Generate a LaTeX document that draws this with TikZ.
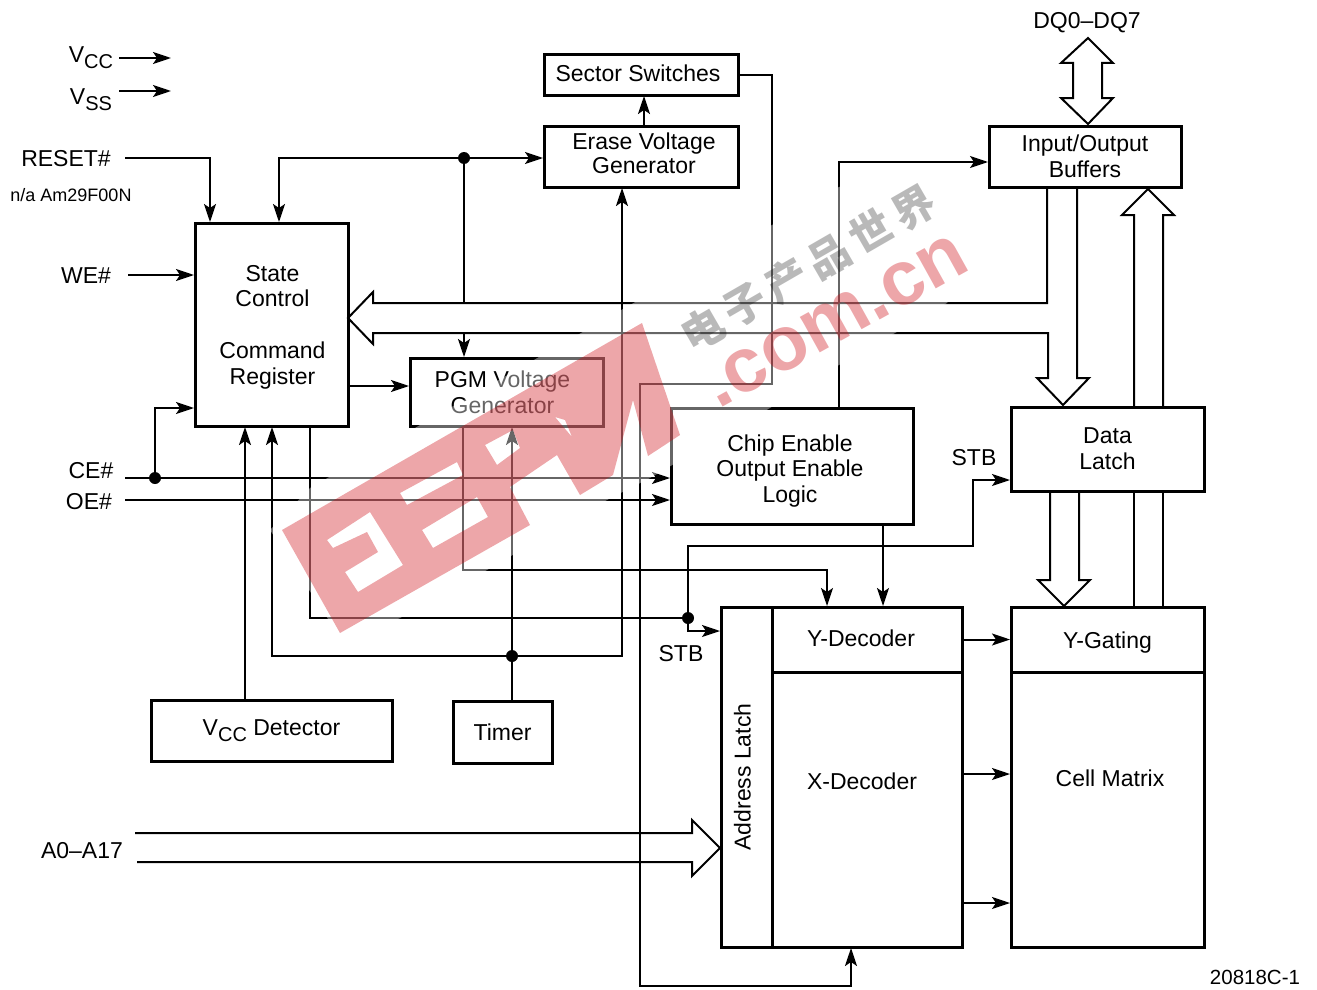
\documentclass[tikz,border=0pt]{standalone}
\usepackage{fontspec}
\setmainfont{Liberation Sans}
\newfontfamily\cjk[LetterSpace=16]{Noto Sans CJK SC}
\usetikzlibrary{arrows.meta,positioning}
\newcommand{\lowtext}[1]{\raisebox{-6pt}{\fontsize{20}{20}\selectfont #1}}
\definecolor{markred}{RGB}{203,0,11}
\tikzset{
    %Define standard arrow tip
    >={Stealth[length=18pt,width=12pt,inset=4pt]},
    %Define style for boxes
    blockbox/.style={
           rectangle,
           draw=black,
           line width=3pt,
           inner sep=0pt,
           outer sep=0pt,
           align=center,
           font=\fontsize{23}{25.8}\selectfont},
    boxlabel/.style={
           inner sep=0pt,
           align=center,
           font=\fontsize{23}{25.8}\selectfont},
    siglabel/.style={
           inner sep=0pt,
           font=\fontsize{23}{26}\selectfont},
    junction/.style={
           circle,
           fill=black,
           inner sep=0pt,
           minimum size=12pt},
    % Define arrow style
    sig/.style={
           ->,
           line width=2pt,
           shorten >=1pt},
    wire/.style={
           line width=2pt},
    bus/.style={
           line width=2pt,
           line join=miter}
}

\begin{document}
\begin{tikzpicture}[x=1pt,y=-1pt]
\useasboundingbox (0,0) rectangle (1317,990);
% blocks
\node[blockbox, minimum width=194pt, minimum height=61pt, label={[boxlabel, xshift=3pt, yshift=3pt, font=\fontsize{23}{24.5}\selectfont]center:Erase Voltage\\Generator}] (erase) at (641,156.5) {};
\node[blockbox, minimum width=194pt, minimum height=40pt, above=31pt of erase, label={[boxlabel, xshift=-3pt, yshift=2pt]center:Sector Switches}] (sector) {};
\node[blockbox, minimum width=192pt, minimum height=61pt] (iobuffers) at (1085,156.5) {Input/Output\\Buffers};
\node[blockbox, minimum width=153pt, minimum height=203pt, label={[boxlabel, xshift=1pt, yshift=-2.5pt]center:State\\Control\\[25.8pt]Command\\Register}] (state) at (271.5,324.5) {};
\node[blockbox, minimum width=193pt, minimum height=68pt, label={[boxlabel, xshift=-4pt]center:PGM Voltage\\Generator}] (pgm) at (506.5,392) {};
\node[blockbox, minimum width=242pt, minimum height=116pt, label={[boxlabel, xshift=-2pt, yshift=-5pt]center:Chip Enable\\Output Enable\\Logic}] (chip) at (792,466) {};
\node[blockbox, minimum width=193pt, minimum height=84pt] (datalatch) at (1107.5,449) {Data\\Latch};
\node[blockbox, minimum width=241pt, minimum height=61pt] (vccdet) at (271.5,730.5) {V\lowtext{CC} Detector};
\node[blockbox, minimum width=99pt, minimum height=62pt] (timer) at (502.5,732) {Timer};
\node[blockbox, minimum width=190pt, minimum height=65pt, label={[boxlabel, xshift=-6pt, yshift=1pt]center:Y-Decoder}] (ydec) at (867,639.5) {};
\node[blockbox, minimum width=190pt, minimum height=275pt, below=0pt of ydec, label={[boxlabel, xshift=-5pt, yshift=28pt]center:X-Decoder}] (xdec) {};
\node[blockbox, minimum width=51pt, minimum height=340pt, label={[boxlabel, xshift=-4pt]center:\rotatebox{90}{Address Latch}}] (addr) at (746.5,777) {};
\node[blockbox, minimum width=193pt, minimum height=65pt, label={[boxlabel, yshift=-3pt]center:Y-Gating}] (ygate) at (1107.5,639.5) {};
\node[blockbox, minimum width=193pt, minimum height=275pt, below=0pt of ygate, label={[boxlabel, xshift=2.5pt, yshift=31pt]center:Cell Matrix}] (cell) {};
% labels
\node[siglabel] (vcc) at (91,58) {V\lowtext{CC}};
\node[siglabel] (vss) at (91,100) {V\lowtext{SS}};
\node[siglabel] (reset) at (66,158.5) {RESET\#};
\node[siglabel, font=\fontsize{18}{18}\selectfont] (na) at (71,195) {n/a Am29F00N};
\node[siglabel] (we) at (86,276) {WE\#};
\node[siglabel] (ce) at (91,471) {CE\#};
\node[siglabel] (oe) at (89,502) {OE\#};
\node[siglabel] (stbdata) at (974,458) {STB};
\node[siglabel] (stbaddr) at (681,654) {STB};
\node[siglabel] (addrbus) at (82,851) {A0--A17};
\node[siglabel] (dq) at (1087,23) {DQ0--DQ7};
\node[siglabel, font=\fontsize{20.5}{20.5}\selectfont] (partno) at (1255,977) {20818C-1};
% free ends and dots
\coordinate (vccin) at (119,58);
\coordinate (vccend) at (172,58);
\coordinate (vssin) at (119,91);
\coordinate (vssend) at (172,91);
\coordinate (resetin) at (125,158);
\coordinate (wein) at (128,275);
\coordinate (cein) at (125,478);
\coordinate (oein) at (125,500);
\coordinate (bustop) at (464,303);
\coordinate (buslow) at (464,333);
\node[junction] (dotreset) at (464,158) {};
\node[junction] (dotce) at (155,478) {};
\node[junction] (dotstb) at (688,618) {};
\node[junction] (dottimer) at (512,656) {};
% control lines
\draw[sig] (vccin) -- (vccend);
\draw[sig] (vssin) -- (vssend);
\draw[sig] (resetin) -| ([xshift=-61.5pt]state.north);
\draw[sig] (dotreset) -| ([xshift=7.5pt]state.north);
\draw[sig] (dotreset) -- ([yshift=-1.5pt]erase.west);
\draw[wire] (dotreset) -- (bustop);
\draw[sig] (buslow) -- (buslow |- pgm.north);
\draw[sig] ([xshift=3pt]erase.north) -- ([xshift=3pt]sector.south);
\draw[sig] (wein) -- ([yshift=49.5pt]state.west);
\draw[sig] ([yshift=-61.5pt]state.east) -- ([yshift=6pt]pgm.west);
\draw[sig] (cein) -- ([yshift=-12pt]chip.west);
\draw[sig] (oein) -- ([yshift=-34pt]chip.west);
\draw[sig] (dotce) |- ([yshift=-83.5pt]state.west);
\draw[sig] ([xshift=-26.5pt]vccdet.north) -- ([xshift=-26.5pt]state.south);
\draw[sig] ([xshift=9.5pt]timer.north) -- ([xshift=5.5pt]pgm.south);
\draw[sig] (dottimer) -| ([xshift=.5pt]state.south);
\draw[sig] (dottimer) -| ([xshift=-19pt]erase.south);
\draw[sig] ([xshift=38.5pt]state.south) |- (dotstb) |- ([yshift=146pt]addr.west);
\draw[sig] (dotstb) |- (973,546) |- ([yshift=-31pt]datalatch.west);
\draw[sig] ([xshift=-43.5pt]pgm.south) |- (827,570) -| ([xshift=-40pt]ydec.north);
\draw[sig] ([xshift=91pt]chip.south) -- ([xshift=16pt]ydec.north);
\draw[sig] ([xshift=47pt]chip.north) |- ([yshift=-5.5pt]iobuffers.west);
\draw[sig] (sector.east) -| (772,384) -| (640,986) -| ([xshift=-16pt]xdec.south);
\draw[sig] (ydec.east) -- (ygate.west);
\draw[sig] ([yshift=35.5pt]xdec.east) -- ([yshift=35.5pt]cell.west);
\draw[sig] ([yshift=-93.5pt]xdec.east) -- ([yshift=-93.5pt]cell.west);
% hollow arrows
\draw[bus] (1088,38) -- (1113,63) -- (1102,63) -- (1102,98) -- (1113,98) -- (1088,124) -- (1061,98) -- (1073,98) -- (1073,63) -- (1061,63) -- cycle;
\draw[bus] ([xshift=-38pt]iobuffers.south) |- (373,303) -- (373,292) -- (348,318) -- (373,344) -- (373,333) -- (1048,333) -- (1048,378) -- (1037,378) -- (1063,405) -- (1089,378) -- (1077,378) -- ([xshift=-8pt]iobuffers.south);
\draw[bus] ([xshift=26.5pt]datalatch.north) -- (1134,215) -- (1122,215) -- (1148,189) -- (1174,215) -- (1163,215) -- ([xshift=55.5pt]datalatch.north);
\draw[bus] ([xshift=-57.5pt]datalatch.south) -- (1050,580) -- (1038,580) -- (1064,606) -- (1090,580) -- (1079,580) -- ([xshift=-28.5pt]datalatch.south);
\draw[wire] ([xshift=26.5pt]datalatch.south) -- ([xshift=26.5pt]ygate.north);
\draw[wire] ([xshift=55.5pt]datalatch.south) -- ([xshift=55.5pt]ygate.north);
\draw[bus] (135,833) -- (692,833) -- (692,820) -- (720,848) -- (692,876) -- (692,862) -- (137,862);
% watermark
\fill[white, opacity=.4] (270,530) -- (310,488) -- (630,305) -- (772,225) -- (839,187) -- (925,165) -- (985,245) -- (947,303) -- (895,333) -- (839,365) -- (770,408) -- (650,478) -- (607,500) -- (487,570) -- (400,618) -- (345,645) -- cycle;
\fill[markred, opacity=.35, even odd rule] (282,530) -- (642,323) -- (680,435) -- (648,456) -- (633,400) -- (613,475) -- (580,495) -- (557,455) -- (510,487) -- (530,525) -- (340,633) -- cycle
    (327,540) -- (370,512) -- (403,565) -- (358,592) -- (345,572) -- (378,552) -- (367,532) -- (333,548) -- cycle
    (400,493) -- (457,462) -- (463,475) -- (407,505) -- cycle
    (422,530) -- (477,497) -- (488,517) -- (433,548) -- cycle
    (485,445) -- (513,430) -- (520,448) -- (497,465) -- cycle
    (555,417) -- (565,420) -- (572,437) -- cycle;
\node[anchor=base west, rotate=29, inner sep=0pt, text=markred, opacity=.35, font=\fontsize{77}{77}\selectfont\bfseries] (markcom) at (718,410) {.com.cn};
\node[rotate=30, inner sep=0pt, text=black, opacity=.27, font=\fontsize{42}{42}\selectfont\cjk\bfseries] (markcn) at (808,268) {电子产品世界};
\end{tikzpicture}
\end{document}
